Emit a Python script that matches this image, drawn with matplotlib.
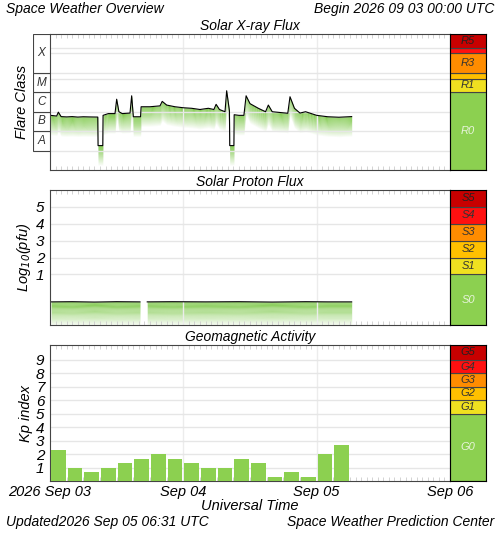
import numpy as np
import matplotlib
matplotlib.use("Agg")
import matplotlib.pyplot as plt
from matplotlib.patches import Rectangle

plt.rcParams["font.family"] = ["Liberation Sans", "DejaVu Sans"]
plt.rcParams["font.style"] = "italic"

# X-ray flux (hours since 2026-09-03 00 UTC, W/m^2)
xray_t = [0.1, 1.2, 1.5, 2.0, 3.0, 4.0, 5.0, 6.0, 7.0, 8.6, 8.65, 9.5, 9.55, 10.5,
          11.7, 12.0, 12.4, 13.0, 14.4, 14.7, 15.0, 16.3, 16.4, 18.0, 19.8, 20.2,
          21.0, 22.5, 24.0, 25.5, 27.0, 28.5, 29.5, 29.9, 30.5, 31.5, 31.8, 32.3,
          32.35, 33.1, 33.15, 34.0, 34.9, 35.3, 36.0, 37.5, 38.8, 39.3, 40.0,
          42.8, 43.2, 44.0, 45.0, 46.0, 48.0, 50.0, 52.0, 54.3]
xray_f = [6.5e-7, 6.0e-7, 9.5e-7, 5.6e-7, 5.4e-7, 5.6e-7, 5.3e-7, 5.5e-7, 5.4e-7,
          5.3e-7, 1.8e-8, 1.8e-8, 6.5e-7, 8.0e-7, 8.0e-7, 4.4e-6, 1.0e-6, 8.0e-7,
          8.5e-7, 6.6e-6, 5.5e-7, 5.5e-7, 1.8e-6, 1.8e-6, 2.0e-6, 3.4e-6, 2.2e-6,
          1.8e-6, 1.6e-6, 1.5e-6, 1.3e-6, 1.5e-6, 1.3e-6, 2.4e-6, 1.3e-6, 1.0e-6,
          1.2e-5, 1.1e-6, 1.8e-8, 1.8e-8, 7.0e-7, 6.5e-7, 6.5e-7, 6.6e-6, 2.6e-6,
          1.5e-6, 1.0e-6, 2.2e-6, 1.0e-6, 8.3e-7, 5.9e-6, 1.5e-6, 8.5e-7, 1.0e-6,
          6.5e-7, 5.5e-7, 5.2e-7, 5.6e-7]

# Proton flux log10(pfu), two segments with a data gap
proton_t1 = [0.2, 4.0, 8.0, 12.0, 16.2]
proton_v1 = [-0.63, -0.62, -0.64, -0.62, -0.63]
proton_t2 = [17.5, 22.0, 28.0, 34.0, 40.0, 46.0, 50.0, 54.3]
proton_v2 = [-0.63, -0.62, -0.63, -0.62, -0.64, -0.62, -0.63, -0.63]

# Kp index, 3-hour bins
kp = [2.33, 1.0, 0.67, 1.0, 1.33, 1.67, 2.0, 1.67, 1.33, 1.0, 1.0, 1.67,
      1.33, 0.33, 0.67, 0.33, 2.0, 2.67]

day_labels = ["2026 Sep 03", "Sep 04", "Sep 05", "Sep 06"]

GREEN = "#8cd050"
FILL = "#74c43c"

fig = plt.figure(figsize=(5.0, 5.33), dpi=100)


def frac(x0, y0, x1, y1):
    return [x0 / 500, 1 - y1 / 533, (x1 - x0) / 500, (y1 - y0) / 533]


def style(ax):
    ax.set_xlim(0, 72)
    ax.set_xticks([24, 48])
    ax.set_xticklabels([])
    ax.set_xticks(np.arange(1, 72, 1), minor=True)
    ax.tick_params(axis="x", which="major", length=0)
    ax.tick_params(axis="x", which="minor", direction="in", length=3,
                   color="#cccccc", top=True, bottom=True)
    ax.grid(True, axis="x", color="#ececec", lw=1)
    for s in ax.spines.values():
        s.set_color("#444444")


def sidebar(rect, ylim, bands, log=False):
    ax = fig.add_axes(rect)
    if log:
        ax.set_yscale("log")
    ax.set_ylim(*ylim)
    ax.set_xlim(0, 1)
    for lo, hi, c, lab, tc in bands:
        ax.add_patch(Rectangle((0, lo), 1, hi - lo, facecolor=c, edgecolor="#444444", lw=0.8))
        if lab:
            yc = np.sqrt(lo * hi) if log else (lo + hi) / 2
            ax.text(0.5, yc, lab, ha="center", va="center", fontsize=8, color=tc)
    ax.set_xticks([])
    ax.set_yticks([])
    ax.minorticks_off()
    return ax


# ---- X-ray panel
ax1 = fig.add_axes(frac(50, 34, 450, 170))
ax1.set_yscale("log")
ax1.set_ylim(1e-9, 1e-2)
style(ax1)
for y in [1e-8, 1e-7, 1e-6, 1e-5, 1e-4, 1e-3, 5e-5, 2e-3]:
    ax1.axhline(y, color="#e6e6e6", lw=1)
f = np.array(xray_f)
n = 20
for k in range(n):
    ax1.fill_between(xray_t, f * 10 ** (-k * 0.05), f * 10 ** (-(k + 1) * 0.05),
                     color=FILL, alpha=0.9 * (1 - k / n), lw=0)
ax1.plot(xray_t, xray_f, color="black", lw=0.8)
ax1.set_yticks([])
ax1.minorticks_off()
ax1.set_xticks(np.arange(1, 72, 1), minor=True)
ax1.tick_params(axis="x", which="minor", direction="in", length=3,
                color="#cccccc", top=True, bottom=True)
ax1.set_title("Solar X-ray Flux", fontsize=10, pad=3)

axc = fig.add_axes(frac(33, 34, 50, 170))
axc.set_yscale("log")
axc.set_ylim(1e-9, 1e-2)
axc.set_xlim(0, 1)
for lo, hi, lab in [(1e-8, 1e-7, "A"), (1e-7, 1e-6, "B"), (1e-6, 1e-5, "C"),
                    (1e-5, 1e-4, "M"), (1e-4, 1e-2, "X")]:
    axc.add_patch(Rectangle((0, lo), 1, hi - lo, facecolor="white", edgecolor="#444444", lw=0.8))
    axc.text(0.5, np.sqrt(lo * hi), lab, ha="center", va="center", fontsize=8.5, color="#333333")
axc.axis("off")
fig.text(22 / 500, 1 - 102 / 533, "Flare Class", rotation=90, ha="center", va="center", fontsize=10.5)

sidebar(frac(450, 34, 486, 170), (1e-9, 1e-2), [
    (1e-9, 1e-5, GREEN, "R0", "#e8f4dc"),
    (1e-5, 5e-5, "#f0e020", "R1", "#333333"),
    (5e-5, 1e-4, "#ffc000", "", ""),
    (1e-4, 1e-3, "#ff8c00", "R3", "#333333"),
    (1e-3, 2e-3, "#ff1010", "", ""),
    (2e-3, 1e-2, "#c80000", "R5", "#222222"),
], log=True)

# ---- Proton panel
ax2 = fig.add_axes(frac(50, 190, 450, 325))
ax2.set_ylim(-2, 6)
style(ax2)
for y in [1, 2, 3, 4, 5]:
    ax2.axhline(y, color="#e6e6e6", lw=1)
for tt, vv in [(proton_t1, proton_v1), (proton_t2, proton_v2)]:
    v = np.array(vv)
    for k in range(n):
        ax2.fill_between(tt, v - k * 0.07, v - (k + 1) * 0.07, color=FILL,
                         alpha=0.9 * (1 - k / n), lw=0)
    ax2.plot(tt, vv, color="black", lw=0.8)
ax2.set_yticks([1, 2, 3, 4, 5])
ax2.tick_params(axis="y", length=0, labelsize=11, pad=4)
ax2.set_title("Solar Proton Flux", fontsize=10, pad=3)
ax2.set_ylabel(r"Log$_{10}$(pfu)", fontsize=10.5, labelpad=2)

sidebar(frac(450, 190, 486, 325), (-2, 6), [
    (-2, 1, GREEN, "S0", "#e8f4dc"),
    (1, 2, "#f0e020", "S1", "#333333"),
    (2, 3, "#ffc000", "S2", "#333333"),
    (3, 4, "#ff8c00", "S3", "#333333"),
    (4, 5, "#ff1010", "S4", "#333333"),
    (5, 6, "#c80000", "S5", "#222222"),
])

# ---- Kp panel
ax3 = fig.add_axes(frac(50, 345, 450, 481))
ax3.set_ylim(0, 10.1)
style(ax3)
for y in range(1, 10):
    ax3.axhline(y, color="#e6e6e6", lw=1)
centers = [1.5 + 3 * i for i in range(len(kp))]
ax3.bar(centers, kp, width=2.6, color=GREEN, zorder=3)
ax3.set_yticks(range(1, 10))
ax3.tick_params(axis="y", length=0, labelsize=11, pad=4)
ax3.set_title("Geomagnetic Activity", fontsize=10, pad=3)
ax3.set_ylabel("Kp index", fontsize=10.5, labelpad=2)

sidebar(frac(450, 345, 486, 481), (0, 10.1), [
    (0, 5, GREEN, "G0", "#e8f4dc"),
    (5, 6, "#f0e020", "G1", "#333333"),
    (6, 7, "#ffc000", "G2", "#333333"),
    (7, 8, "#ff8c00", "G3", "#333333"),
    (8, 9, "#ff1010", "G4", "#333333"),
    (9, 10.1, "#c80000", "G5", "#222222"),
])

for i, lab in enumerate(day_labels):
    x = (50 + i * 133.3) / 500
    fig.text(x, 1 - 492 / 533, lab, ha="center", va="center", fontsize=10.5)
fig.text(0.5, 1 - 506 / 533, "Universal Time", ha="center", va="center", fontsize=10.5)
fig.text(6 / 500, 1 - 522 / 533, "Updated2026 Sep 05 06:31 UTC", ha="left", va="center", fontsize=10)
fig.text(494 / 500, 1 - 522 / 533, "Space Weather Prediction Center", ha="right", va="center", fontsize=10)
fig.text(6 / 500, 1 - 9 / 533, "Space Weather Overview", ha="left", va="center", fontsize=10)
fig.text(494 / 500, 1 - 9 / 533, "Begin 2026 09 03 00:00 UTC", ha="right", va="center", fontsize=10)

fig.savefig("out.png", dpi=100)
